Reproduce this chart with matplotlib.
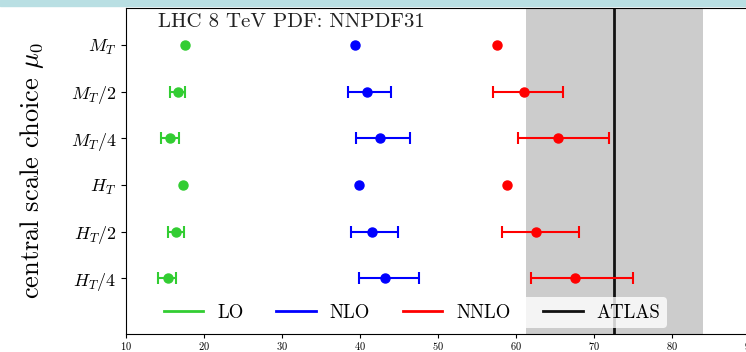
"""Scale choice comparison plot: LO / NLO / NNLO vs ATLAS at LHC 8 TeV."""

import matplotlib
matplotlib.use('Agg')

import numpy as np
import matplotlib.pyplot as plt
from matplotlib.patches import Rectangle

plt.rcParams['font.family'] = ['cmr10', 'DejaVu Serif']
plt.rcParams['mathtext.fontset'] = 'cm'
plt.rcParams['axes.formatter.use_mathtext'] = True

# ─── data ───────────────────────────────────────────────────────────
scales = [r'$M_T$', r'$M_T/2$', r'$M_T/4$', r'$H_T$', r'$H_T/2$', r'$H_T/4$']

lo_val = [17.6, 16.7, 15.7, 17.3, 16.4, 15.35]
lo_lo = [17.6, 15.6, 14.5, 17.3, 15.35, 14.1]
lo_hi = [17.6, 17.6, 16.75, 17.3, 17.4, 16.4]

nlo_val = [39.4, 40.9, 42.5, 39.9, 41.5, 43.2]
nlo_lo = [39.4, 38.4, 39.5, 39.9, 38.9, 39.9]
nlo_hi = [39.4, 44.0, 46.45, 39.9, 44.9, 47.5]

nnlo_val = [57.6, 61.0, 65.4, 58.8, 62.6, 67.6]
nnlo_lo = [57.6, 57.0, 60.2, 58.8, 58.25, 61.9]
nnlo_hi = [57.6, 66.0, 71.95, 58.8, 68.1, 74.95]

atlas_val = 72.6
atlas_lo = 61.3
atlas_hi = 84.0

# ─── figure ─────────────────────────────────────────────────────────
fig = plt.figure(figsize=(7.46, 3.52), dpi=100)
# page strip above the (cropped) figure
fig.patches.append(Rectangle((0, 1 - 6 / 352), 1, 6 / 352, transform=fig.transFigure,
                             color='#b9dfe3', zorder=0))

ax = fig.add_axes([126 / 746, 18 / 352, 663 / 746, 326 / 352])

ypos = np.arange(len(scales), 0, -1)

series = [
    ('LO', lo_val, lo_lo, lo_hi, 'limegreen'),
    ('NLO', nlo_val, nlo_lo, nlo_hi, 'blue'),
    ('NNLO', nnlo_val, nnlo_lo, nnlo_hi, 'red'),
]

ax.axvspan(atlas_lo, atlas_hi, color='#cccccc', lw=0, zorder=0)
handles = []
for name, val, lo, hi, col in series:
    val, lo, hi = np.array(val), np.array(lo), np.array(hi)
    has_err = (hi - lo) > 0
    ax.plot(val, ypos, 'o', color=col, ms=6.5, zorder=4)
    err = np.array([val - lo, hi - val])[:, has_err]
    ax.errorbar(val[has_err], ypos[has_err], xerr=err, fmt='none', ecolor=col,
                lw=1.5, capsize=4, capthick=1.5, zorder=3)
    h, = ax.plot([], [], color=col, lw=2, label=name)
    handles.append(h)
h = ax.axvline(atlas_val, color='#111111', lw=2, label='ATLAS', zorder=2)
handles.append(h)

ax.set_xlim(10, 95)
ax.set_ylim(-0.2, 6.8)
ax.set_yticks(ypos)
ax.set_yticklabels(scales, fontsize=13)
ax.set_xticks(np.arange(10, 100, 10))
ax.tick_params(axis='x', labelsize=7.5, length=3, pad=1.5)
ax.set_ylabel(r'central scale choice $\mu_0$', fontsize=19, labelpad=18)

ax.text(0.048, 0.985, 'LHC 8 TeV PDF: NNPDF31', transform=ax.transAxes,
        fontsize=15, va='top', ha='left', color='#222222')

ax.legend(handles=handles, ncol=4, loc='lower left', bbox_to_anchor=(0.047, 0.018),
          borderaxespad=0, fontsize=13.5, frameon=True, handlelength=2.1,
          handletextpad=0.75, columnspacing=1.75, borderpad=0.35,
          framealpha=0.8, edgecolor='none')

fig.savefig('out.png', dpi=100)
